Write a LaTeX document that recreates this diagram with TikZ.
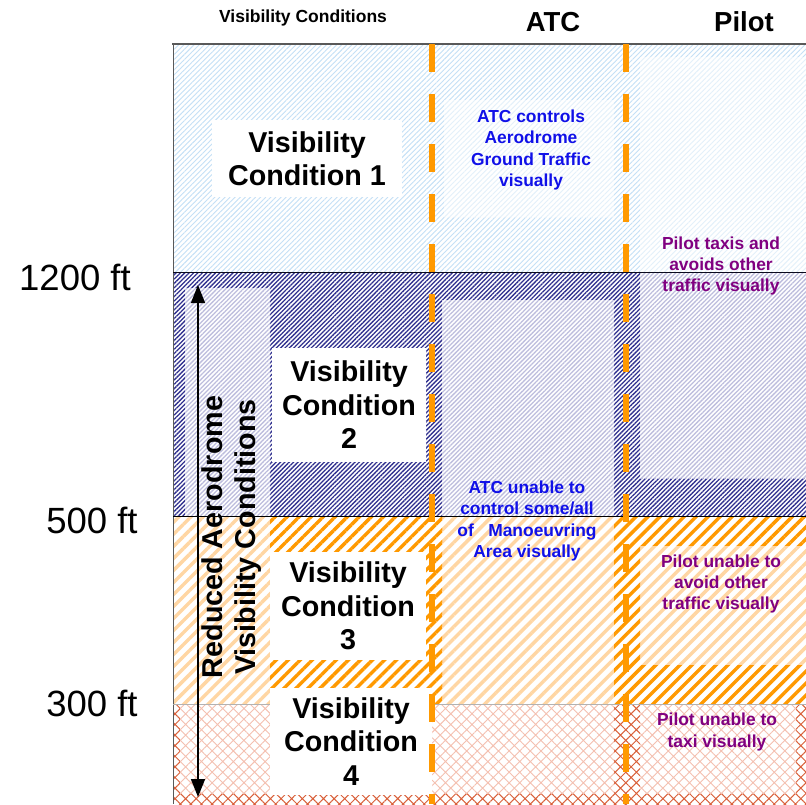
\documentclass[tikz,border=0pt]{standalone}
\usepackage{fontspec}
\setmainfont{Liberation Sans}
\usetikzlibrary{patterns.meta,arrows.meta}
\definecolor{lblue}{HTML}{C4E0F6}
\definecolor{llblue}{HTML}{E3F0FA}
\definecolor{navy}{HTML}{30308F}
\definecolor{lav}{HTML}{BDBDDD}
\definecolor{dorange}{HTML}{FF9900}
\definecolor{lorange}{HTML}{FFD6A3}
\definecolor{dred}{HTML}{D9603A}
\definecolor{lred}{HTML}{F4C0B0}
\definecolor{tblue}{HTML}{1010E8}
\definecolor{tpurple}{HTML}{800080}
\begin{document}
\begin{tikzpicture}[x=1pt,y={(0pt,-1pt)},
  lbP/.style={pattern={Lines[angle=45,distance=3.6pt,line width=0.9pt]},pattern color=lblue},
  llbP/.style={pattern={Lines[angle=45,distance=3.6pt,line width=0.9pt]},pattern color=llblue},
  nvP/.style={pattern={Lines[angle=45,distance=3.1pt,line width=1.3pt]},pattern color=navy},
  lvP/.style={pattern={Lines[angle=45,distance=3.1pt,line width=1.3pt]},pattern color=lav},
  doP/.style={pattern={Lines[angle=45,distance=8.5pt,line width=3.4pt]},pattern color=dorange},
  loP/.style={pattern={Lines[angle=45,distance=8.5pt,line width=3.4pt]},pattern color=lorange},
  drP/.style={pattern={Hatch[angle=45,distance=7.5pt,line width=1pt]},pattern color=dred},
  lrP/.style={pattern={Hatch[angle=45,distance=7.5pt,line width=0.9pt]},pattern color=lred},
  vcbox/.style={fill=white,inner sep=0pt,align=center,font=\bfseries\fontsize{28.7}{33.5}\selectfont},
  btext/.style={align=center,text=tblue,font=\bfseries\fontsize{17.4}{21.5}\selectfont},
  ptext/.style={align=center,text=tpurple,font=\bfseries\fontsize{17.4}{21.3}\selectfont},
  ftlab/.style={font=\fontsize{36.5}{40}\selectfont},
  head/.style={font=\bfseries\fontsize{27.5}{32}\selectfont},
  dashline/.style={draw=dorange,line width=6.5pt,dash pattern=on 28pt off 22pt},
]
\useasboundingbox (0,0) rectangle (806,804);
\fill[white] (0,0) rectangle (806,804);
% band 1
\fill[lbP] (173,44) rectangle (806,272);
\fill[white] (444,100) rectangle (614,217);
\fill[llbP] (444,100) rectangle (614,217);
\fill[white] (640,57) rectangle (806,272);
\fill[llbP] (640,57) rectangle (806,272);
% band 2
\fill[nvP] (173,272) rectangle (806,516);
\fill[white] (185,288) rectangle (270,516);
\fill[lvP] (185,288) rectangle (270,516);
\fill[white] (442,300) rectangle (614,516);
\fill[lvP] (442,300) rectangle (614,516);
\fill[white] (640,272) rectangle (806,478);
\fill[lvP] (640,272) rectangle (806,478);
% band 3
\fill[loP] (173,516) rectangle (806,704);
\fill[white] (270,516) rectangle (442,552);
\fill[doP] (270,516) rectangle (442,552);
\fill[white] (270,660) rectangle (442,688);
\fill[doP] (270,660) rectangle (442,688);
\fill[white] (426,516) rectangle (442,704);
\fill[doP] (426,516) rectangle (442,704);
\fill[white] (614,516) rectangle (640,704);
\fill[doP] (614,516) rectangle (640,704);
\fill[white] (640,516) rectangle (806,545);
\fill[doP] (640,516) rectangle (806,545);
\fill[white] (640,665) rectangle (806,704);
\fill[doP] (640,665) rectangle (806,704);
% band 4
\fill[drP] (173,704) rectangle (806,804);
\fill[white] (180,704) rectangle (614,793);
\fill[lrP] (180,704) rectangle (614,793);
\fill[white] (640,704) rectangle (796,793);
\fill[lrP] (640,704) rectangle (796,793);
% lines
\draw[gray!70!black,line width=1.2pt] (172,44) -- (806,44);
\draw[gray!70!black,line width=1pt] (173,44) -- (173,804);
\draw[black!80!navy,line width=1pt] (173,272) -- (806,272);
\draw[black,line width=1pt] (173,516) -- (806,516);
\draw[gray!60,line width=1pt] (173,704) -- (806,704);
% white boxes
\node[vcbox,minimum width=190pt,minimum height=77pt] (vc1) at (307,158.5) {Visibility\\Condition 1};
\node[vcbox,minimum width=154pt,minimum height=114pt] (vc2) at (349,405) {Visibility\\Condition\\2};
\node[vcbox,minimum width=156pt,minimum height=108pt] (vc3) at (348,606) {Visibility\\Condition\\3};
\node[vcbox,minimum width=162pt,minimum height=107pt] (vc4) at (351,741.5) {Visibility\\Condition\\4};
% dashed separators
\coordinate (d1t) at (432,44);
\coordinate (d1b) at (432,804);
\coordinate (d2t) at (626,44);
\coordinate (d2b) at (626,804);
\draw[dashline] (d1t) -- (d1b);
\draw[dashline] (d2t) -- (d2b);
% headers
\node[font=\bfseries\fontsize{17.5}{20}\selectfont] (hvc) at (303,18) {Visibility Conditions};
\node[head] (hatc) at (553,22) {ATC};
\node[head] (hpil) at (744,22) {Pilot};
% altitude labels
\node[ftlab] (f1200) at (75,277) {1200 ft};
\node[ftlab] (f500) at (92,520) {500 ft};
\node[ftlab] (f300) at (92,703) {300 ft};
% texts
\node[btext] (atc1) at (531,150) {ATC controls\\Aerodrome\\Ground Traffic\\visually};
\node[btext] (atc2) at (527,521) {ATC unable to\\control some/all\\of~~~Manoeuvring\\Area visually};
\node[ptext] (p1) at (721,266) {Pilot taxis and\\avoids other\\traffic visually};
\node[ptext] (p2) at (721,584) {Pilot unable to\\avoid other\\traffic visually};
\node[ptext] (p3) at (717,732) {Pilot unable to\\taxi visually};
% rotated label and arrow
\node[rotate=90,align=center,font=\bfseries\fontsize{28.7}{33}\selectfont] (rav) at (232,537) {Reduced Aerodrome\\Visibility Conditions};
\coordinate (at) at (198,285);
\coordinate (ab) at (198,797);
\draw[line width=1.5pt,{Triangle[length=18pt,width=14pt]}-{Triangle[length=18pt,width=14pt]}] (at) -- (ab);
\end{tikzpicture}
\end{document}
